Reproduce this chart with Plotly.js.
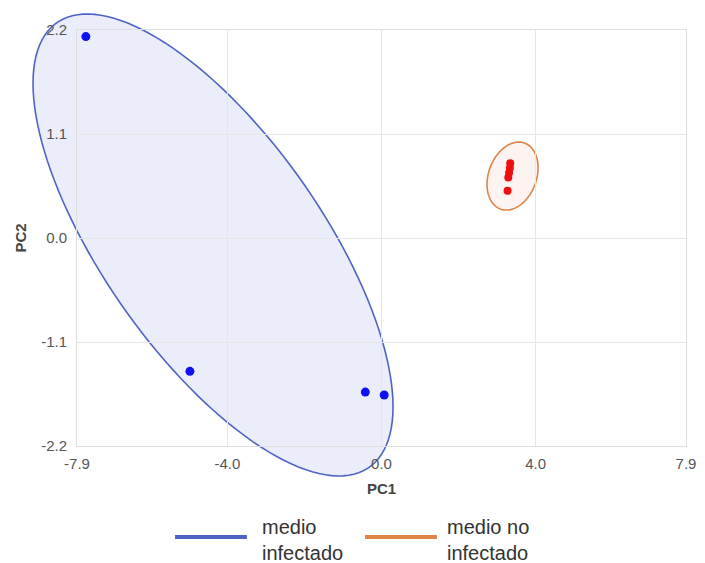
<!DOCTYPE html>
<html><head><meta charset="utf-8">
<script src="https://cdn.plot.ly/plotly-3.0.1.min.js"></script>
<style>html,body{margin:0;padding:0;background:#fff}</style>
</head><body><div id="chart" style="width:705px;height:563px"></div>
<script>
// ---- data ----
const groupNames = ['medio<br>infectado', 'medio no<br>infectado'];
const infectedPC1 = [-7.67, -4.97, -0.42, 0.07];
const infectedPC2 = [2.13, -1.41, -1.63, -1.66];
const uninfectedPC1 = [3.34, 3.33, 3.31, 3.29, 3.27];
const uninfectedPC2 = [0.79, 0.74, 0.69, 0.64, 0.50];
// confidence ellipses in data units: centre, first and second semi-axis vectors
const infectedEllipseCenter = [-4.371, -0.074];
const infectedEllipseU = [4.670, -1.710];
const infectedEllipseV = [0.0, -1.745];
const uninfectedEllipseCenter = [3.40, 0.655];
const uninfectedEllipseU = [0.312, 0.349];
const uninfectedEllipseV = [0.584, -0.087];
const xRange = [-7.9, 7.9];
const yRange = [-2.2, 2.2];
const xTickVals = [-7.9, -4.0, 0.0, 4.0, 7.9];
const xTickText = ['-7.9', '-4.0', '0.0', '4.0', '7.9'];
const yTickVals = [-2.2, -1.1, 0.0, 1.1, 2.2];
const yTickText = ['-2.2', '-1.1', '0.0', '1.1', '2.2'];

// ellipse path in axis-domain fractions (so it is not clipped by the plot area)
function ellipsePath(c, u, v) {
  const n = 140;
  let d = '';
  for (let i = 0; i <= n; i++) {
    const t = 2 * Math.PI * i / n;
    const x = c[0] + u[0] * Math.cos(t) + v[0] * Math.sin(t);
    const y = c[1] + u[1] * Math.cos(t) + v[1] * Math.sin(t);
    const fx = (x - xRange[0]) / (xRange[1] - xRange[0]);
    const fy = (y - yRange[0]) / (yRange[1] - yRange[0]);
    d += (i === 0 ? 'M' : 'L') + fx.toFixed(5) + ',' + fy.toFixed(5);
  }
  return d + 'Z';
}

const blueLine = '#4f63c6';
const orangeLine = '#dd8548';
const FONT = 'Liberation Sans, Arial, sans-serif';

const traces = [
  {x: infectedPC1, y: infectedPC2, mode: 'markers', type: 'scatter',
   marker: {color: '#1010ee', size: 9}, showlegend: false, hoverinfo: 'x+y'},
  {x: uninfectedPC1, y: uninfectedPC2, mode: 'markers', type: 'scatter',
   marker: {color: '#ee1010', size: 8}, showlegend: false, hoverinfo: 'x+y'}
];

const shapes = [
  {type: 'path', xref: 'x domain', yref: 'y domain', layer: 'below',
   path: ellipsePath(infectedEllipseCenter, infectedEllipseU, infectedEllipseV),
   fillcolor: 'rgba(70,100,210,0.11)', line: {color: blueLine, width: 1.6}},
  {type: 'path', xref: 'x domain', yref: 'y domain', layer: 'below',
   path: ellipsePath(uninfectedEllipseCenter, uninfectedEllipseU, uninfectedEllipseV),
   fillcolor: 'rgba(230,120,80,0.08)', line: {color: orangeLine, width: 1.6}},
  // legend samples
  {type: 'line', xref: 'paper', yref: 'paper', x0: 0.161, x1: 0.279, y0: -0.219, y1: -0.219,
   line: {color: blueLine, width: 4}},
  {type: 'line', xref: 'paper', yref: 'paper', x0: 0.473, x1: 0.591, y0: -0.219, y1: -0.219,
   line: {color: orangeLine, width: 4}}
];

const annotations = [
  {xref: 'paper', yref: 'paper', x: 0.300, y: -0.226, xanchor: 'left', yanchor: 'middle',
   text: groupNames[0], showarrow: false, align: 'left', font: {size: 20, color: '#333', family: FONT}},
  {xref: 'paper', yref: 'paper', x: 0.605, y: -0.226, xanchor: 'left', yanchor: 'middle',
   text: groupNames[1], showarrow: false, align: 'left', font: {size: 20, color: '#333', family: FONT}}
];

const layout = {
  width: 705, height: 563,
  margin: {l: 77, r: 19, t: 30, b: 117},
  paper_bgcolor: '#fff', plot_bgcolor: 'rgba(0,0,0,0)',
  font: {family: FONT, color: '#555', size: 14},
  showlegend: false,
  xaxis: {range: xRange, tickvals: xTickVals, ticktext: xTickText,
    showgrid: true, gridcolor: '#e6e6e6', zeroline: false,
    showline: true, mirror: true, linecolor: '#dedede', linewidth: 1,
    ticks: 'outside', ticklen: 4, tickcolor: 'rgba(0,0,0,0)',
    tickfont: {size: 15, color: '#555'},
    title: {text: '<b>PC1</b>', font: {size: 15, color: '#444'}, standoff: 12}},
  yaxis: {range: yRange, tickvals: yTickVals, ticktext: yTickText,
    showgrid: true, gridcolor: '#e6e6e6', zeroline: false,
    showline: true, mirror: true, linecolor: '#dedede', linewidth: 1,
    ticks: 'outside', ticklen: 6, tickcolor: 'rgba(0,0,0,0)',
    tickfont: {size: 15, color: '#555'},
    title: {text: '<b>PC2</b>', font: {size: 15, color: '#444'}, standoff: 10}},
  shapes: shapes,
  annotations: annotations
};

Plotly.newPlot('chart', traces, layout, {displayModeBar: false, staticPlot: true});
</script>
</body></html>
